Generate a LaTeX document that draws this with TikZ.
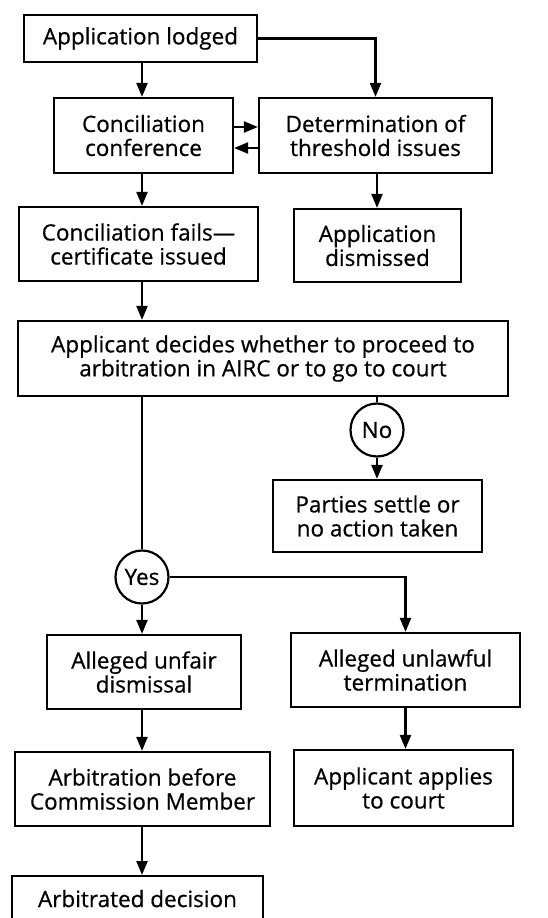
\documentclass[tikz,border=0pt]{standalone}
\usepackage{fontspec}
\setmainfont{Open Sans}[FakeBold=0.6]
\usetikzlibrary{arrows.meta}
\begin{document}
\begin{tikzpicture}[x=1pt, y=-1pt, line width=2.2pt,
    box/.style 2 args={draw, rectangle, align=center, inner sep=0pt, minimum width=#1pt, minimum height=#2pt, font=\fontsize{22.5}{24}\selectfont},
    dec/.style={draw, circle, minimum size=53pt, inner sep=0pt, font=\fontsize{22.5}{24}\selectfont},
    arr/.style={-{Triangle[length=14pt,width=11pt]}}]
        \clip (0,0) rectangle (547,918);
        \node[box={233}{47}] (lodged) at (140.5,38.5) {Application lodged};
        \node[box={179}{75}] (conc) at (143.5,135.5) {Conciliation\\conference};
        \node[box={233}{75}] (threshold) at (375.5,135.5) {Determination of\\threshold issues};
        \node[box={239}{74}] (fails) at (138.5,244) {Conciliation fails---\\certificate issued};
        \node[box={167}{73}] (dismissed) at (377.5,245.5) {Application\\dismissed};
        \node[box={490}{75}] (decides) at (263,358.5) {Applicant decides whether to proceed to\\arbitration in AIRC or to go to court};
        \node[dec] (no) at (377,430) {No};
        \node[box={209}{72}] (settle) at (377.5,516) {Parties settle or\\no action taken};
        \node[dec] (yes) at (142,577) {Yes};
        \node[box={194}{74}] (unfair) at (144,672) {Alleged unfair\\dismissal};
        \node[box={229}{74}] (unlawful) at (405.5,670) {Alleged unlawful\\termination};
        \node[box={255}{74}] (arbitration) at (142.5,789) {Arbitration before\\Commission Member};
        \node[box={219}{76}] (court) at (403.5,788) {Applicant applies\\to court};
        \node[box={251}{45}, anchor=north] (decision) at (137.5,875) {Arbitrated decision};
        \draw[arr] (lodged.south -| yes) -- (conc.north -| yes);
        \draw[arr] (lodged.east) -| (threshold.north);
        \draw[arr] ([yshift=8.5pt]conc.east) -- ([yshift=8.5pt]threshold.west);
        \draw[arr] ([yshift=-12.5pt]threshold.west) -- ([yshift=-12.5pt]conc.east);
        \draw[arr] (conc.south -| yes) -- (fails.north -| yes);
        \draw[arr] (threshold.south -| no) -- (dismissed.north -| no);
        \draw[arr] (fails.south -| yes) -- (decides.north -| yes);
        \draw (decides.south -| no) -- (no.north);
        \draw[arr] (no.south) -- (settle.north -| no);
        \draw (decides.south -| yes) -- (yes.north);
        \draw[arr] (yes.south) -- (unfair.north -| yes);
        \draw[arr] (yes.east) -| (unlawful.north);
        \draw[arr] (unfair.south -| yes) -- (arbitration.north -| yes);
        \draw[arr] (unlawful.south) -- (court.north -| unlawful);
        \draw[arr] (arbitration.south -| yes) -- (decision.north -| yes);
\end{tikzpicture}
\end{document}
